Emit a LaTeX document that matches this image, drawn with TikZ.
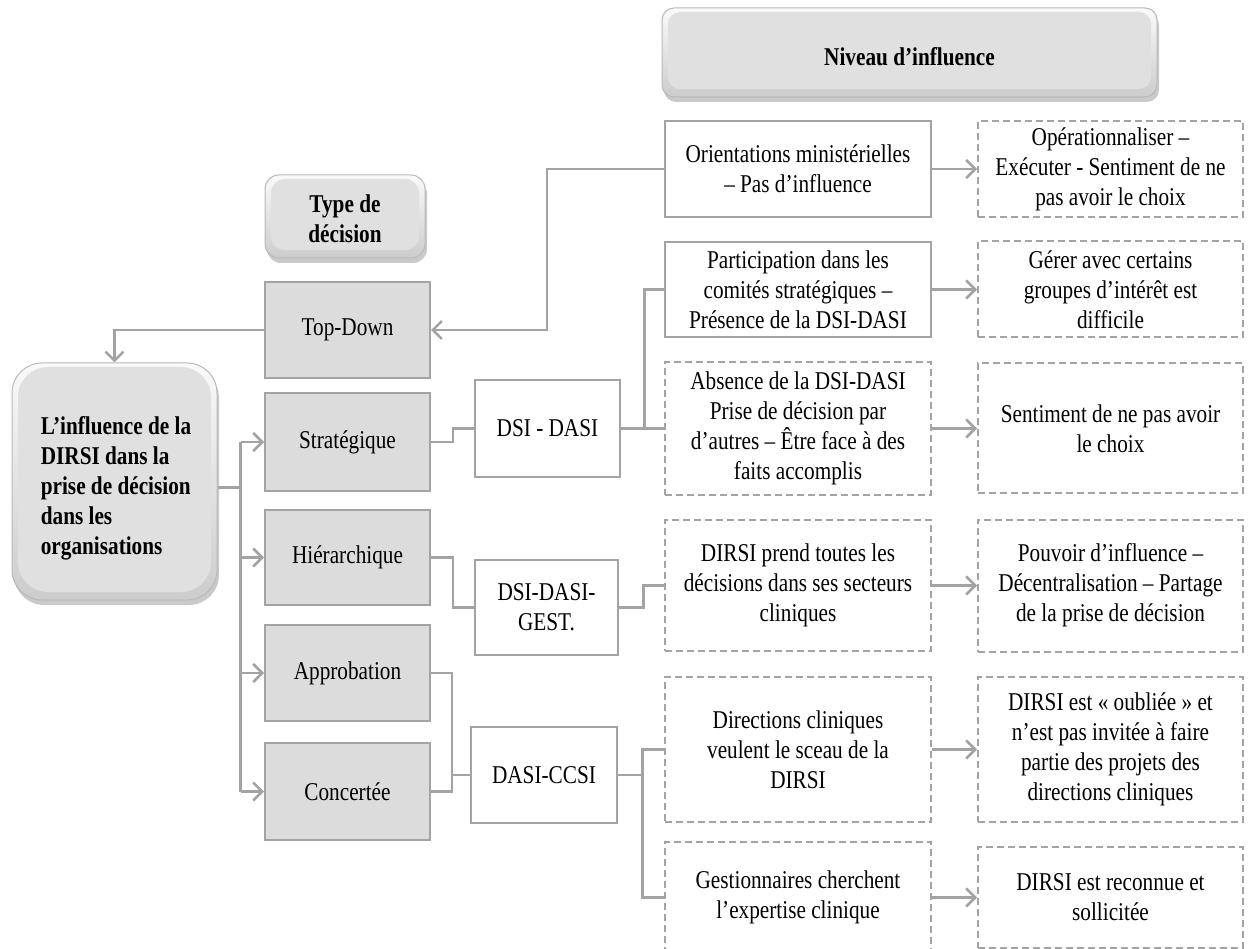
\documentclass[tikz,border=0pt]{standalone}
\usepackage{fontspec}
\setmainfont{Liberation Serif}[FakeStretch=0.83]
\usetikzlibrary{arrows.meta,shadows}
\definecolor{linegray}{HTML}{A3A3A3}
\definecolor{boxgray}{HTML}{DCDCDC}
\definecolor{facegray}{HTML}{E0E0E0}
\begin{document}
\begin{tikzpicture}[x=1pt,y=-1pt,
  txt/.style={font=\fontsize{25.6}{30}\selectfont, align=center, inner sep=0pt},
  bold/.style={font=\fontsize{25.6}{30}\selectfont\bfseries},
  typebox/.style={txt, fill=boxgray, draw=linegray, line width=2pt, minimum width=165, minimum height=96},
  solidbox/.style={txt, fill=white, draw=linegray, line width=2.5pt, minimum width=266},
  dashbox/.style={txt, fill=white, draw=linegray, line width=2pt, dash pattern=on 7pt off 4pt, minimum width=266},
  bevel/.style={draw=gray!55, line width=1pt, rounded corners=#1,
    top color=gray!4, bottom color=gray!40,
    drop shadow={shadow xshift=2pt, shadow yshift=-5pt, fill=gray!75, opacity=0.55},
    path picture={\fill[facegray, rounded corners=#1]
      ([shift={(6pt,-4pt)}]path picture bounding box.north west) rectangle
      ([shift={(-6pt,8pt)}]path picture bounding box.south east);}},
  link/.style={draw=linegray, line width=2.5pt},
  arr/.style={-{Straight Barb[length=9pt,width=18pt]}}
]
\useasboundingbox (0,0) rectangle (1251,949);

% headers
\node[bevel=12pt, bold, minimum width=495, minimum height=89, inner sep=0pt] (niveau) at (909.5,52.5) {};
\node[bold, inner sep=0pt] (niveautext) at (909.5,57) {Niveau d’influence};
\node[bevel=14pt, bold, align=center, minimum width=160, minimum height=83, inner sep=0pt] (type) at (345,216.5) {};
\node[bold, align=center, inner sep=0pt] (typetext) at (345,219) {Type de\\décision};
\node[bevel=30pt, minimum width=205, minimum height=237, inner sep=0pt] (main) at (114.5,481.5) {};
\node[bold, align=left, inner sep=0pt] (maintext) at (116,488)
  {L’influence de la\\DIRSI dans la\\prise de décision\\dans les\\organisations};

% decision types
\node[typebox] (topdown) at (347.5,330) {Top-Down};
\node[typebox, minimum height=98] (strat) at (347.5,442) {Stratégique};
\node[typebox, minimum height=95] (hier) at (347.5,557.5) {Hiérarchique};
\node[typebox] (appro) at (347.5,673) {Approbation};
\node[typebox, minimum height=97] (conc) at (347.5,791.5) {Concertée};

% actors
\node[solidbox, minimum width=145, minimum height=97] (dsi) at (547.5,428.5) {DSI - DASI};
\node[solidbox, minimum width=143, minimum height=95] (gest) at (546.5,607.5) {DSI-DASI-\\GEST.};
\node[solidbox, minimum width=146, minimum height=96] (ccsi) at (544,775) {DASI-CCSI};

% situations
\node[solidbox, minimum height=96] (orient) at (798,169) {Orientations ministérielles\\– Pas d’influence};
\node[solidbox, minimum height=95] (part) at (798,289.5) {Participation dans les\\comités stratégiques –\\Présence de la DSI-DASI};
\node[dashbox, minimum height=133] (abs) at (798,428.5) {Absence de la DSI-DASI\\Prise de décision par\\d’autres – Être face à des\\faits accomplis};
\node[dashbox, minimum height=131] (prend) at (798,585.5) {DIRSI prend toutes les\\décisions dans ses secteurs\\cliniques};
\node[dashbox, minimum height=145] (dir) at (798,749.5) {Directions cliniques\\veulent le sceau de la\\DIRSI};
\node[dashbox, minimum height=111] (gestion) at (798,897.5) {Gestionnaires cherchent\\l’expertise clinique};

% influence levels
\node[dashbox, minimum width=265, minimum height=96] (oper) at (1110.5,169) {Opérationnaliser –\\Exécuter - Sentiment de ne\\pas avoir le choix};
\node[dashbox, minimum width=265, minimum height=96] (gerer) at (1110.5,289.5) {Gérer avec certains\\groupes d’intérêt est\\difficile};
\node[dashbox, minimum width=265, minimum height=130] (sent) at (1110.5,428.5) {Sentiment de ne pas avoir\\le choix};
\node[dashbox, minimum width=265, minimum height=132] (pouvoir) at (1110.5,585.5) {Pouvoir d’influence –\\Décentralisation – Partage\\de la prise de décision};
\node[dashbox, minimum width=265, minimum height=145] (oubli) at (1110.5,749.5) {DIRSI est « oubliée » et\\n’est pas invitée à faire\\partie des projets des\\directions cliniques};
\node[dashbox, minimum width=265, minimum height=101] (reconnu) at (1110.5,897.5) {DIRSI est reconnue et\\sollicitée};

% main box to decision types
\draw[link, arr] (topdown.west) -| (main.north);
\draw[link] ([yshift=-6pt]main.east) -- ++(23,0) coordinate (trunk);
\draw[link] (trunk |- strat.west) -- (trunk |- conc.west);
\foreach \t in {strat,hier,appro,conc}
  \draw[link, arr] (trunk |- \t.west) -- (\t.west);

% top-down feedback
\draw[link, arr] (orient.west) -- ++(-117,0) |- (topdown.east);

% decision types to actors
\draw[link] (strat.east) -- ++(22,0) |- (dsi.west);
\draw[link] (hier.east) -- ++(22,0) |- (gest.west);
\draw[link] (appro.east) -- ++(21,0) |- (ccsi.west);
\draw[link] (conc.east) -- ++(21,0) |- (ccsi.west);

% actors to situations
\draw[link] (dsi.east) -- ++(23,0) |- (part.west);
\draw[link] (dsi.east) -- (abs.west);
\draw[link] (gest.east) -- ++(24,0) |- (prend.west);
\draw[link] (ccsi.east) -- ++(24,0) |- (dir.west);
\draw[link] (ccsi.east) -- ++(24,0) |- (gestion.west);

% situations to influence levels
\draw[link, arr] (orient.east) -- (oper.west);
\draw[link, arr] (part.east) -- (gerer.west);
\draw[link, arr] (abs.east) -- (sent.west);
\draw[link, arr] (prend.east) -- (pouvoir.west);
\draw[link, arr] (dir.east) -- (oubli.west);
\draw[link, arr] (gestion.east) -- (reconnu.west);
\end{tikzpicture}
\end{document}
